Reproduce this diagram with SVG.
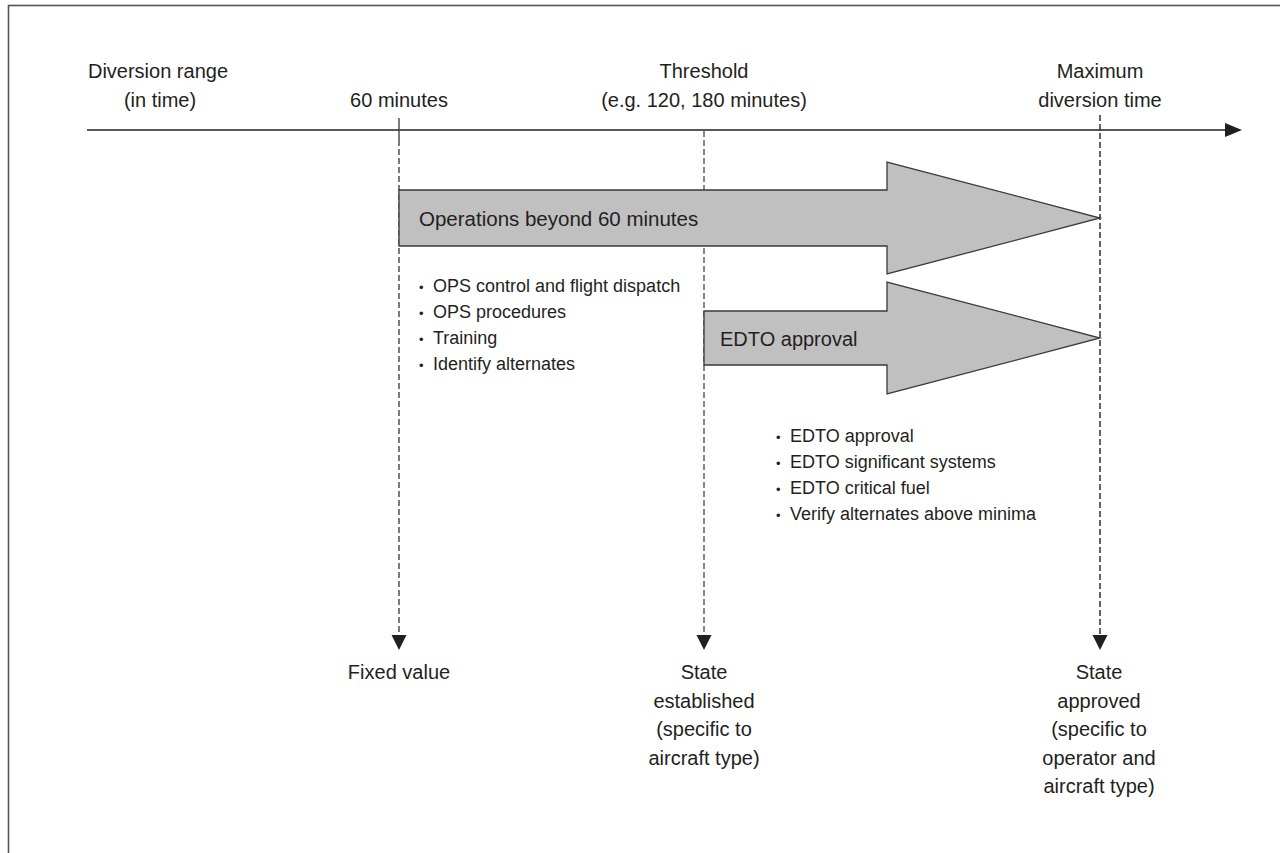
<svg xmlns="http://www.w3.org/2000/svg" width="1280" height="853" viewBox="0 0 1280 853">
<style>
.t{font-family:"Liberation Sans",Arial,sans-serif;font-size:20px;fill:#231f20}
.m{text-anchor:middle}
.b{font-family:"Liberation Sans",Arial,sans-serif;font-size:18px;fill:#231f20}
.dot{font-family:"Liberation Sans",Arial,sans-serif;font-size:13px;fill:#231f20}
.big{fill:#c0c0c0;stroke:#3a3a3a;stroke-width:1.3}
.dash{fill:none;stroke-width:1.4;stroke-dasharray:6 3}
</style>
<rect x="8.5" y="5.5" width="1300" height="900" fill="#fff" stroke="#555" stroke-width="1.6"/>

<g id="connectors">
<line x1="87" y1="130" x2="1226" y2="130" stroke="#231f20" stroke-width="1.4"/>
<path d="M1225,123 L1242,130 L1225,137 Z" fill="#231f20"/>
<line x1="399" y1="118" x2="399" y2="140" stroke="#444" stroke-width="1.4"/>
<line class="dash" x1="399" y1="140" x2="399" y2="636" stroke="#444"/>
<path d="M391.5,635 L406.5,635 L399,650 Z" fill="#231f20"/>
<line class="dash" x1="704" y1="131" x2="704" y2="636" stroke="#555"/>
<path d="M696.5,635 L711.5,635 L704,650 Z" fill="#231f20"/>
<line class="dash" x1="1100" y1="115" x2="1100" y2="636" stroke="#231f20" stroke-width="1.6"/>
<path d="M1092.5,635 L1107.5,635 L1100,650 Z" fill="#231f20"/>
</g>

<g id="label-diversion-range">
<text class="t m" x="158" y="78">Diversion range</text>
<text class="t m" x="160" y="107">(in time)</text>
</g>
<g id="label-60">
<text class="t m" x="399" y="107">60 minutes</text>
</g>
<g id="label-threshold">
<text class="t m" x="704" y="78">Threshold</text>
<text class="t m" x="704" y="107">(e.g. 120, 180 minutes)</text>
</g>
<g id="label-max">
<text class="t m" x="1100" y="78">Maximum</text>
<text class="t m" x="1100" y="107">diversion time</text>
</g>

<g id="arrow-operations">
<path class="big" d="M399,190 L887,190 L887,162 L1100,218 L887,274 L887,246 L399,246 Z"/>
<text class="t" x="419" y="226" style="font-size:20.5px">Operations beyond 60 minutes</text>
</g>
<g id="arrow-edto">
<path class="big" d="M704,311 L887,311 L887,282 L1100,338 L887,394 L887,365 L704,365 Z"/>
<text class="t" x="720" y="346">EDTO approval</text>
</g>

<g id="list-operations">
<text class="dot" x="419" y="292">•</text><text class="b" x="433" y="292">OPS control and flight dispatch</text>
<text class="dot" x="419" y="318">•</text><text class="b" x="433" y="318">OPS procedures</text>
<text class="dot" x="419" y="344">•</text><text class="b" x="433" y="344">Training</text>
<text class="dot" x="419" y="370">•</text><text class="b" x="433" y="370">Identify alternates</text>
</g>
<g id="list-edto">
<text class="dot" x="776" y="442">•</text><text class="b" x="790" y="442">EDTO approval</text>
<text class="dot" x="776" y="468">•</text><text class="b" x="790" y="468">EDTO significant systems</text>
<text class="dot" x="776" y="494">•</text><text class="b" x="790" y="494">EDTO critical fuel</text>
<text class="dot" x="776" y="520">•</text><text class="b" x="790" y="520">Verify alternates above minima</text>
</g>

<g id="label-fixed">
<text class="t m" x="399" y="679">Fixed value</text>
</g>
<g id="label-state-established">
<text class="t m" x="704" y="679">State</text>
<text class="t m" x="704" y="707.5">established</text>
<text class="t m" x="704" y="736">(specific to</text>
<text class="t m" x="704" y="764.5">aircraft type)</text>
</g>
<g id="label-state-approved">
<text class="t m" x="1099" y="679">State</text>
<text class="t m" x="1099" y="707.5">approved</text>
<text class="t m" x="1099" y="736">(specific to</text>
<text class="t m" x="1099" y="764.5">operator and</text>
<text class="t m" x="1099" y="793">aircraft type)</text>
</g>
</svg>
